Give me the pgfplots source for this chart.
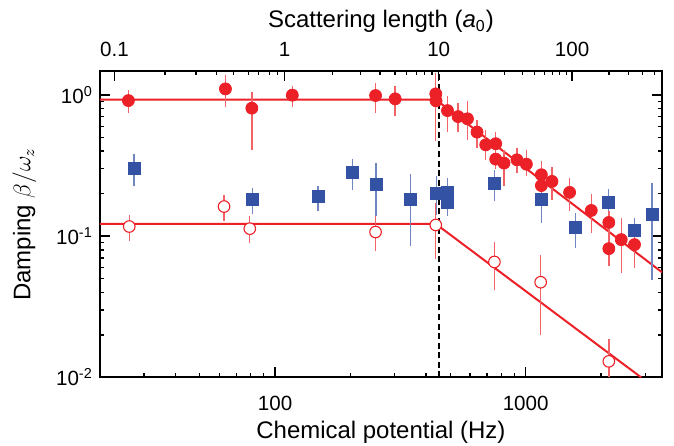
\documentclass[border=0pt]{standalone}
\usepackage{pgfplots}
\pgfplotsset{compat=1.18}
\usepackage{fontspec}
\setmainfont{Liberation Sans}
\usetikzlibrary{calc}
\definecolor{myred}{RGB}{236,32,39}
\definecolor{myblue}{RGB}{52,82,163}
\begin{document}
\begin{tikzpicture}
\pgfplotsset{every axis/.append style={scale only axis, width=281.5pt, height=153.5pt,
  tick align=inside, major tick length=5pt, minor tick length=2.2pt,
  every tick/.style={black, line width=0.7pt},
  tick label style={font=\fontsize{10.3}{12}\selectfont},
  label style={font=\fontsize{12}{14}\selectfont}}}
\begin{axis}[name=ax,
  xmode=log, ymode=log,
  xmin=20, xmax=3500, ymin=0.01, ymax=1.478,
  xtick={100,1000}, xticklabels={100,1000},
  ytick={0.01,0.1,1}, yticklabels={10\textsuperscript{-2},10\textsuperscript{-1},10\textsuperscript{0}},
  minor xtick={30,40,50,60,70,80,90,200,300,400,500,600,700,800,900,2000,3000},
  minor ytick={0.02,0.03,0.04,0.05,0.06,0.07,0.08,0.09,0.2,0.3,0.4,0.5,0.6,0.7,0.8,0.9},
  xtick pos=left, ytick pos=both,
  axis line style={line width=1pt},
  xticklabel style={yshift=-6pt},
  xlabel style={yshift=2pt},
  ylabel style={yshift=3pt},
  xlabel={Chemical potential (Hz)},
  ylabel={Damping $\beta/\omega_z$},
  clip=true,
]
\coordinate (bl) at (rel axis cs:0,0);
\coordinate (tr) at (rel axis cs:1,1);
% fit lines
\addplot[myred, line width=1pt] coordinates {(20,0.925) (438,0.925) (3500,0.0555)};
\addplot[myred, line width=1pt] coordinates {(20,0.122) (438,0.122) (2891,0.01)};
\addplot[black, line width=1pt, dash pattern=on 3pt off 1.8pt] coordinates {(450,0.01) (450,1.478)};
% blue squares
\addplot[only marks, mark=square*, mark size=3.0pt, color=myblue,
  error bars/.cd, y dir=both, y explicit, error mark=none,
  error bar style={line width=0.7pt, myblue!70}]
coordinates {
(27.4,0.303) += (0,0.080) -= (0,0.076)
(81.2,0.181) += (0,0.038) -= (0,0.037)
(148.4,0.191) += (0,0.036) -= (0,0.041)
(204,0.282) += (0,0.069) -= (0,0.071)
(252.6,0.232) += (0,0.097) -= (0,0.094)
(347.2,0.182) += (0,0.094) -= (0,0.097)
(440.8,0.200) += (0,0.065) -= (0,0.058)
(487.6,0.205) += (0,0.053) -= (0,0.051)
(487.6,0.173) += (0,0.045) -= (0,0.035)
(752.5,0.235) += (0,0.060) -= (0,0.059)
(1155,0.181) += (0,0.057) -= (0,0.057)
(1582,0.115) += (0,0.032) -= (0,0.033)
(2141,0.173) += (0,0.043) -= (0,0.046)
(2718,0.110) += (0,0.024) -= (0,0.028)
(3197,0.142) += (0,0.096) -= (0,0.093)
};
% filled red circles
\addplot[only marks, mark=*, mark size=3.0pt, color=myred,
  error bars/.cd, y dir=both, y explicit, error mark=none,
  error bar style={line width=0.7pt, myred!70}]
coordinates {
(26.0,0.911) += (0,0.174) -= (0,0.162)
(63.4,1.102) += (0,0.283) -= (0,0.275)
(80.8,0.805) += (0,0.250) -= (0,0.396)
(117.2,0.995) += (0,0.163) -= (0,0.176)
(251.8,0.989) += (0,0.233) -= (0,0.240)
(301.5,0.937) += (0,0.221) -= (0,0.226)
(437.9,1.016) += (0,0.415) -= (0,0.548)
(439,0.907) += (0,0.080) -= (0,0.080)
(487.6,0.774) += (0,0.210) -= (0,0.224)
(537.5,0.702) += (0,0.172) -= (0,0.152)
(585.7,0.677) += (0,0.234) -= (0,0.196)
(639.7,0.545) += (0,0.121) -= (0,0.125)
(692.8,0.443) += (0,0.117) -= (0,0.096)
(759.4,0.451) += (0,0.099) -= (0,0.094)
(759.4,0.351) += (0,0.050) -= (0,0.050)
(819.5,0.329) += (0,0.080) -= (0,0.104)
(923.1,0.347) += (0,0.073) -= (0,0.067)
(1006.5,0.323) += (0,0.086) -= (0,0.058)
(1155,0.272) += (0,0.066) -= (0,0.059)
(1155,0.228) += (0,0.030) -= (0,0.030)
(1273,0.244) += (0,0.064) -= (0,0.065)
(1497,0.204) += (0,0.054) -= (0,0.054)
(1827,0.152) += (0,0.048) -= (0,0.047)
(2147,0.125) += (0,0.025) -= (0,0.025)
(2147,0.0816) += (0,0.021) -= (0,0.020)
(2406,0.0945) += (0,0.040) -= (0,0.040)
(2718,0.0871) += (0,0.021) -= (0,0.028)
};
% open red circles
\addplot[only marks, mark=*, mark size=2.9pt, color=myred,
  mark options={fill=white, line width=0.55pt},
  error bars/.cd, y dir=both, y explicit, error mark=none,
  error bar style={line width=0.7pt, myred!70}]
coordinates {
(26.2,0.117) += (0,0.025) -= (0,0.025)
(62.6,0.162) += (0,0.034) -= (0,0.035)
(79.3,0.113) += (0,0.025) -= (0,0.024)
(251.8,0.107) += (0,0.031) -= (0,0.029)
(437.9,0.120) += (0,0.053) -= (0,0.051)
(750.5,0.0657) += (0,0.0247) -= (0,0.0243)
(1147.6,0.0472) += (0,0.0268) -= (0,0.0271)
(2147,0.0130) += (0,0.0056) -= (0,0.0030)
};
\end{axis}
\begin{axis}[
  xmin=99.6, xmax=662.6, ymin=0, ymax=1,
  axis x line*=top, axis y line=none,
  axis line style={draw=none},
  xtick={114.3,284.5,439,572.5}, xticklabels={0.1,1,10,100},
  minor xtick={165,195.7,216.7,233.3,248.3,258.3,269.3,277.7,332.7,360.7,380,395,406.7,416.7,425,432.3,481.7,505,522.7,535,545,552.7,560,566.7,609.3,629.3,643.3,655},
  xticklabel style={yshift=3.5pt},
  xlabel style={yshift=-2pt},
  xlabel={Scattering length (\textit{a}\textsubscript{0})},
]
\end{axis}
\pgfresetboundingbox
\path[use as bounding box] ($(bl)+(-50pt,-34pt)$) rectangle ($(tr)+(6pt,35.5pt)$);
\end{tikzpicture}
\end{document}
